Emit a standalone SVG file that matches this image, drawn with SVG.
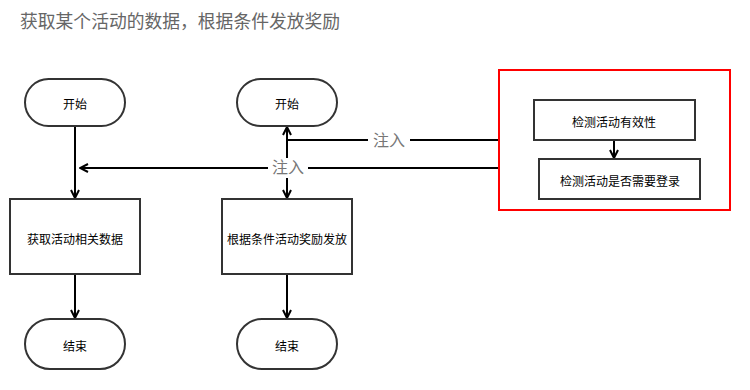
<svg xmlns="http://www.w3.org/2000/svg" width="750" height="390" viewBox="0 0 750 390">
<style>
.node{fill:#fff;stroke:#333;stroke-width:2}
.t{font-family:"Noto Sans CJK SC","Noto Sans",sans-serif;font-size:12px;fill:#000;text-anchor:middle;dominant-baseline:central}
.lbl{font-family:"Noto Sans CJK SC","Noto Sans",sans-serif;font-size:16px;fill:#777;text-anchor:middle;dominant-baseline:central}
.c{stroke:#000;stroke-width:2;fill:none}
</style>
<defs>
<marker id="arr" viewBox="0 0 10 10" refX="9" refY="5" markerWidth="10" markerHeight="10" markerUnits="userSpaceOnUse" orient="auto">
<path d="M1,1 L9,5 L1,9" fill="none" stroke="#000" stroke-width="2"/>
</marker>
</defs>
<rect width="750" height="390" fill="#fff"/>
<text x="20" y="20" font-family="Noto Sans CJK SC,sans-serif" font-size="17.8" fill="#666" dominant-baseline="central">获取某个活动的数据，根据条件发放奖励</text>

<g id="connectors">
<line class="c" x1="75" y1="126" x2="75" y2="198" marker-end="url(#arr)"/>
<line class="c" x1="75" y1="274" x2="75" y2="318" marker-end="url(#arr)"/>
<line class="c" x1="287" y1="274" x2="287" y2="318" marker-end="url(#arr)"/>
<line class="c" x1="287" y1="167" x2="287" y2="198" marker-end="url(#arr)"/>
<line class="c" x1="287" y1="167" x2="287" y2="127" marker-end="url(#arr)"/>
<line class="c" x1="499" y1="140" x2="287" y2="140"/>
<line class="c" x1="499" y1="168" x2="80" y2="168" marker-end="url(#arr)"/>
<line class="c" x1="614" y1="140" x2="614" y2="158" marker-end="url(#arr)"/>
<rect x="368" y="130" width="42" height="20" fill="#fff"/>
<text class="lbl" x="389" y="139">注入</text>
<rect x="268" y="158" width="40" height="20" fill="#fff"/>
<text class="lbl" x="288" y="166">注入</text>
</g>

<g id="group-red">
<rect x="499" y="70" width="231" height="140" fill="none" stroke="#f00" stroke-width="2"/>
</g>
<g id="start1">
<rect class="node" x="25" y="79" width="100" height="47" rx="23.5"/>
<text class="t" x="75" y="103">开始</text>
</g>
<g id="start2">
<rect class="node" x="237" y="79" width="100" height="47" rx="23.5"/>
<text class="t" x="287" y="103">开始</text>
</g>
<g id="fetch">
<rect class="node" x="10" y="199" width="130" height="75"/>
<text class="t" x="75" y="238">获取活动相关数据</text>
</g>
<g id="reward">
<rect class="node" x="222" y="199" width="130" height="75"/>
<text class="t" x="287" y="238">根据条件活动奖励发放</text>
</g>
<g id="end1">
<rect class="node" x="25" y="319" width="100" height="50" rx="25"/>
<text class="t" x="75" y="345">结束</text>
</g>
<g id="end2">
<rect class="node" x="237" y="319" width="100" height="50" rx="25"/>
<text class="t" x="287" y="345">结束</text>
</g>
<g id="check1">
<rect class="node" x="534" y="100" width="161" height="40"/>
<text class="t" x="614" y="121">检测活动有效性</text>
</g>
<g id="check2">
<rect class="node" x="539" y="159" width="161" height="40"/>
<text class="t" x="620" y="180">检测活动是否需要登录</text>
</g>
</svg>
